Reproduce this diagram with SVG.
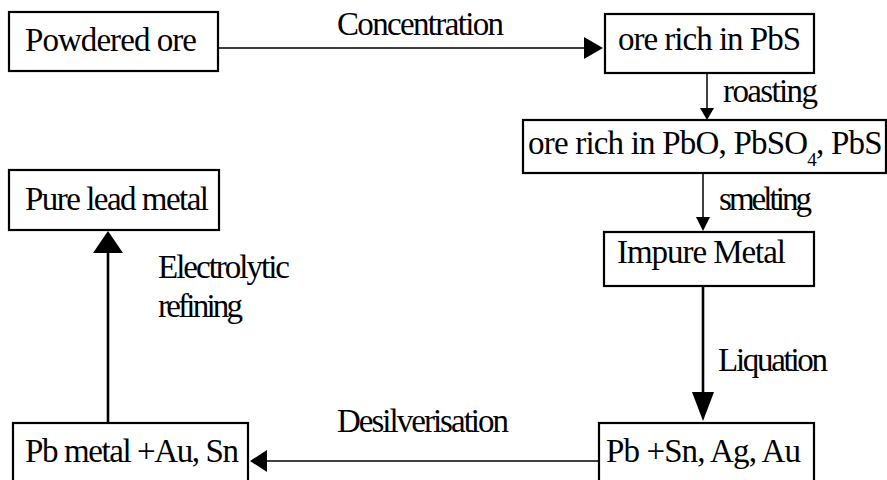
<svg xmlns="http://www.w3.org/2000/svg" width="887" height="480" viewBox="0 0 887 480">
<style>
.box{fill:#fff;stroke:#000;stroke-width:2.2}
.t{font-family:"Liberation Serif","Times New Roman",serif;font-size:33px;fill:#000}
.ln{stroke:#000;fill:none;stroke-width:1.5}
.lnb{stroke:#000;fill:none;stroke-width:2.6}
.ah{fill:#000;stroke:none}
</style>
<rect width="887" height="480" fill="#fff"/>
<g id="connectors">
  <line class="ln" x1="218" y1="48" x2="585" y2="48"/>
  <polygon class="ah" points="603,48 584,37 584,59"/>
  <text class="t" x="337" y="35" textLength="167" lengthAdjust="spacing">Concentration</text>
  <line class="ln" x1="707" y1="73" x2="707" y2="110"/>
  <polygon class="ah" points="707,120 700,108 714,108"/>
  <text class="t" x="723" y="102" textLength="95" lengthAdjust="spacing">roasting</text>
  <line class="ln" x1="703" y1="173" x2="703" y2="219"/>
  <polygon class="ah" points="703,231 696,217 710,217"/>
  <text class="t" x="719" y="210" textLength="93" lengthAdjust="spacing">smelting</text>
  <line class="lnb" x1="703" y1="286" x2="703" y2="395"/>
  <polygon class="ah" points="703,421 692,392 714,392"/>
  <text class="t" x="718" y="371" textLength="110" lengthAdjust="spacing">Liquation</text>
  <line class="ln" x1="599" y1="461" x2="265" y2="461"/>
  <polygon class="ah" points="250,461 267,450 267,472"/>
  <text class="t" x="337" y="432" textLength="172" lengthAdjust="spacing">Desilverisation</text>
  <line class="lnb" x1="108" y1="423" x2="108" y2="250"/>
  <polygon class="ah" points="108,231 93,253 123,253"/>
  <text class="t" x="158" y="278" textLength="132" lengthAdjust="spacing">Electrolytic</text>
  <text class="t" x="158" y="317" textLength="85" lengthAdjust="spacing">refining</text>
</g>
<g id="powdered-ore">
  <rect class="box" x="9" y="12" width="209" height="59"/>
  <text class="t" x="25" y="51" textLength="172" lengthAdjust="spacing">Powdered ore</text>
</g>
<g id="ore-rich-pbs">
  <rect class="box" x="605" y="14" width="209" height="59"/>
  <text class="t" x="618" y="50" textLength="183" lengthAdjust="spacing">ore rich in PbS</text>
</g>
<g id="ore-rich-pbo">
  <rect class="box" x="523" y="120" width="363" height="53"/>
  <text class="t" x="528" y="154" letter-spacing="-0.8">ore rich in PbO, PbSO<tspan font-size="19" dy="12">4</tspan><tspan dy="-12">, PbS</tspan></text>
</g>
<g id="impure-metal">
  <rect class="box" x="604" y="232" width="210" height="54"/>
  <text class="t" x="617" y="263" textLength="169" lengthAdjust="spacing">Impure Metal</text>
</g>
<g id="pb-sn-ag-au">
  <rect class="box" x="599" y="423" width="215" height="60"/>
  <text class="t" x="606" y="462" textLength="195" lengthAdjust="spacing">Pb +Sn, Ag, Au</text>
</g>
<g id="pb-metal-au-sn">
  <rect class="box" x="13" y="423" width="235" height="60"/>
  <text class="t" x="25" y="462" textLength="214" lengthAdjust="spacing">Pb metal +Au, Sn</text>
</g>
<g id="pure-lead">
  <rect class="box" x="9" y="170" width="210" height="60"/>
  <text class="t" x="25" y="210" textLength="184" lengthAdjust="spacing">Pure lead metal</text>
</g>
</svg>
